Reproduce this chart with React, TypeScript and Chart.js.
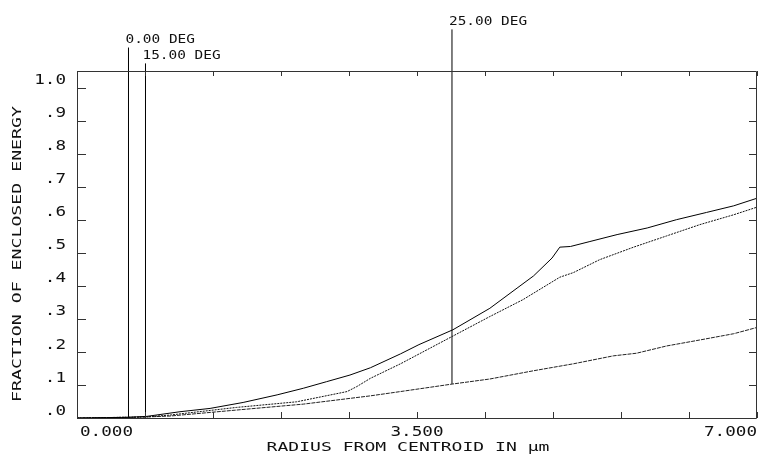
import React, { useEffect, useRef } from "react";
import { Chart, registerables } from "chart.js";

Chart.register(...registerables);

// ---- data ----
const radius0 = [0, 0.53, 0.72, 1.06, 1.37, 1.71, 2.06, 2.33, 2.57, 2.81, 3.02, 3.33, 3.52, 3.87, 4.25, 4.53, 4.7, 4.89, 4.97, 5.08, 5.28, 5.56, 5.87, 6.17, 6.48, 6.76, 7.0];
const energy0 = [0, 0.002, 0.005, 0.019, 0.029, 0.047, 0.07, 0.09, 0.11, 0.13, 0.152, 0.194, 0.222, 0.267, 0.332, 0.393, 0.43, 0.484, 0.517, 0.519, 0.534, 0.555, 0.575, 0.6, 0.622, 0.642, 0.665];

const radius15 = [0, 0.7, 0.96, 1.64, 2.26, 2.78, 2.88, 3.02, 3.33, 3.87, 4.25, 4.59, 4.97, 5.11, 5.38, 5.73, 6.07, 6.41, 6.76, 7.0];
const energy15 = [0, 0.003, 0.009, 0.032, 0.049, 0.08, 0.095, 0.12, 0.164, 0.248, 0.307, 0.358, 0.426, 0.44, 0.479, 0.517, 0.551, 0.585, 0.615, 0.638];

const radius25 = [0, 0.7, 0.96, 1.64, 2.33, 3.02, 3.33, 3.87, 4.25, 4.7, 5.11, 5.52, 5.76, 6.07, 6.41, 6.76, 7.0];
const energy25 = [0, 0.003, 0.006, 0.024, 0.042, 0.067, 0.08, 0.103, 0.118, 0.143, 0.164, 0.188, 0.196, 0.218, 0.236, 0.255, 0.274];

const fieldLabels = ["0.00 DEG", "15.00 DEG", "25.00 DEG"];
const markerRadius = [0.53, 0.705, 3.86];
const markerBottom = [0.0, 0.003, 0.103];
const markerTop = [1.121, 1.073, 1.176];

const yTickValues = [0, 0.1, 0.2, 0.3, 0.4, 0.5, 0.6, 0.7, 0.8, 0.9, 1.0];
const yTickLabels = [".0", ".1", ".2", ".3", ".4", ".5", ".6", ".7", ".8", ".9", "1.0"];
const xTickValues = [0, 0.7, 1.4, 2.1, 2.8, 3.5, 4.2, 4.9, 5.6, 6.3, 7.0];
const xLabelValues = [0, 3.5, 7.0];
const xLabelText = ["0.000", "3.500", "7.000"];

const xTitle = "RADIUS FROM CENTROID IN μm";
const yTitle = "FRACTION OF ENCLOSED ENERGY";

const zip = (xs: number[], ys: number[]) => xs.map((x, i) => ({ x, y: ys[i] }));

const MONO = '"DejaVu Sans Mono", "Liberation Mono", monospace';

function drawText(
  ctx: CanvasRenderingContext2D,
  text: string,
  x: number,
  y: number,
  align: CanvasTextAlign,
  size: number,
  sx: number,
  rotate = 0
) {
  ctx.save();
  ctx.translate(x, y);
  if (rotate) ctx.rotate(rotate);
  ctx.scale(sx, 1);
  ctx.font = `${size}px ${MONO}`;
  ctx.fillStyle = "#111";
  ctx.textAlign = align;
  ctx.textBaseline = "middle";
  ctx.fillText(text, 0, 0);
  ctx.restore();
}

const framePlugin = {
  id: "frame",
  afterDraw(chart: any) {
    const ctx: CanvasRenderingContext2D = chart.ctx;
    const { left, right, top, bottom } = chart.chartArea;
    const xs = chart.scales.x;
    const ys = chart.scales.y;
    ctx.save();
    ctx.strokeStyle = "#333";
    ctx.lineWidth = 1;
    ctx.beginPath();
    ctx.rect(Math.round(left) + 0.5, Math.round(top) + 0.5, Math.round(right - left) - 1, Math.round(bottom - top));
    ctx.stroke();
    ctx.beginPath();
    yTickValues.forEach((v) => {
      const py = Math.round(ys.getPixelForValue(v)) + 0.5;
      ctx.moveTo(left, py);
      ctx.lineTo(left + 9, py);
      ctx.moveTo(right - 1, py);
      ctx.lineTo(right - 8, py);
    });
    xTickValues.forEach((v) => {
      const px = Math.round(xs.getPixelForValue(v)) + 0.5;
      ctx.moveTo(px, bottom);
      ctx.lineTo(px, bottom - 6);
      ctx.moveTo(px, top);
      ctx.lineTo(px, top + 5);
    });
    ctx.stroke();
    ctx.restore();

    // y tick labels
    yTickValues.forEach((v, i) => {
      drawText(ctx, yTickLabels[i], 66, ys.getPixelForValue(v) - 7, "right", 14, 1.26);
    });
    // x tick labels
    xLabelValues.forEach((v, i) => {
      const px = xs.getPixelForValue(v);
      const align: CanvasTextAlign = i === 0 ? "left" : i === xLabelValues.length - 1 ? "right" : "center";
      drawText(ctx, xLabelText[i], align === "left" ? px + 3 : px, bottom + 14, align, 14, 1.26);
    });
    // titles
    drawText(ctx, xTitle, 408, bottom + 30, "center", 13, 1.39);
    drawText(ctx, yTitle, 18, 254, "center", 13, 1.4, -Math.PI / 2);
    // field labels
    fieldLabels.forEach((t, i) => {
      const px = xs.getPixelForValue(markerRadius[i]);
      const py = ys.getPixelForValue(markerTop[i]);
      drawText(ctx, t, px - 3, py - 8, "left", 13, 1.11);
    });
  },
};

export default function App() {
  const ref = useRef<HTMLCanvasElement>(null);
  useEffect(() => {
    document.body.style.margin = "0";
    const markerSets = fieldLabels.map((t, i) => ({
      label: t + " marker",
      data: [
        { x: markerRadius[i], y: markerBottom[i] },
        { x: markerRadius[i], y: markerTop[i] },
      ],
      borderColor: "#000",
      borderWidth: 1,
      pointRadius: 0,
      clip: false as any,
    }));
    const chart = new Chart(ref.current!, {
      type: "line",
      data: {
        datasets: [
          { label: "0.00 DEG", data: zip(radius0, energy0), borderColor: "#000", borderWidth: 1, pointRadius: 0, tension: 0 },
          { label: "15.00 DEG", data: zip(radius15, energy15), borderColor: "#111", borderWidth: 1, pointRadius: 0, tension: 0, borderDash: [2, 1] },
          { label: "25.00 DEG", data: zip(radius25, energy25), borderColor: "#222", borderWidth: 1, pointRadius: 0, tension: 0, borderDash: [4, 1] },
          ...markerSets,
        ],
      },
      options: {
        animation: false,
        responsive: false,
        layout: { padding: { left: 77, right: 2, top: 71, bottom: 36 } },
        plugins: { legend: { display: false }, tooltip: { enabled: false } },
        scales: {
          x: { type: "linear", min: 0, max: 7, display: false },
          y: { type: "linear", min: 0, max: 1.05, display: false },
        },
      },
      plugins: [framePlugin],
    });
    return () => chart.destroy();
  }, []);
  return <canvas ref={ref} width={759} height={454} style={{ display: "block", background: "#fff" }} />;
}
